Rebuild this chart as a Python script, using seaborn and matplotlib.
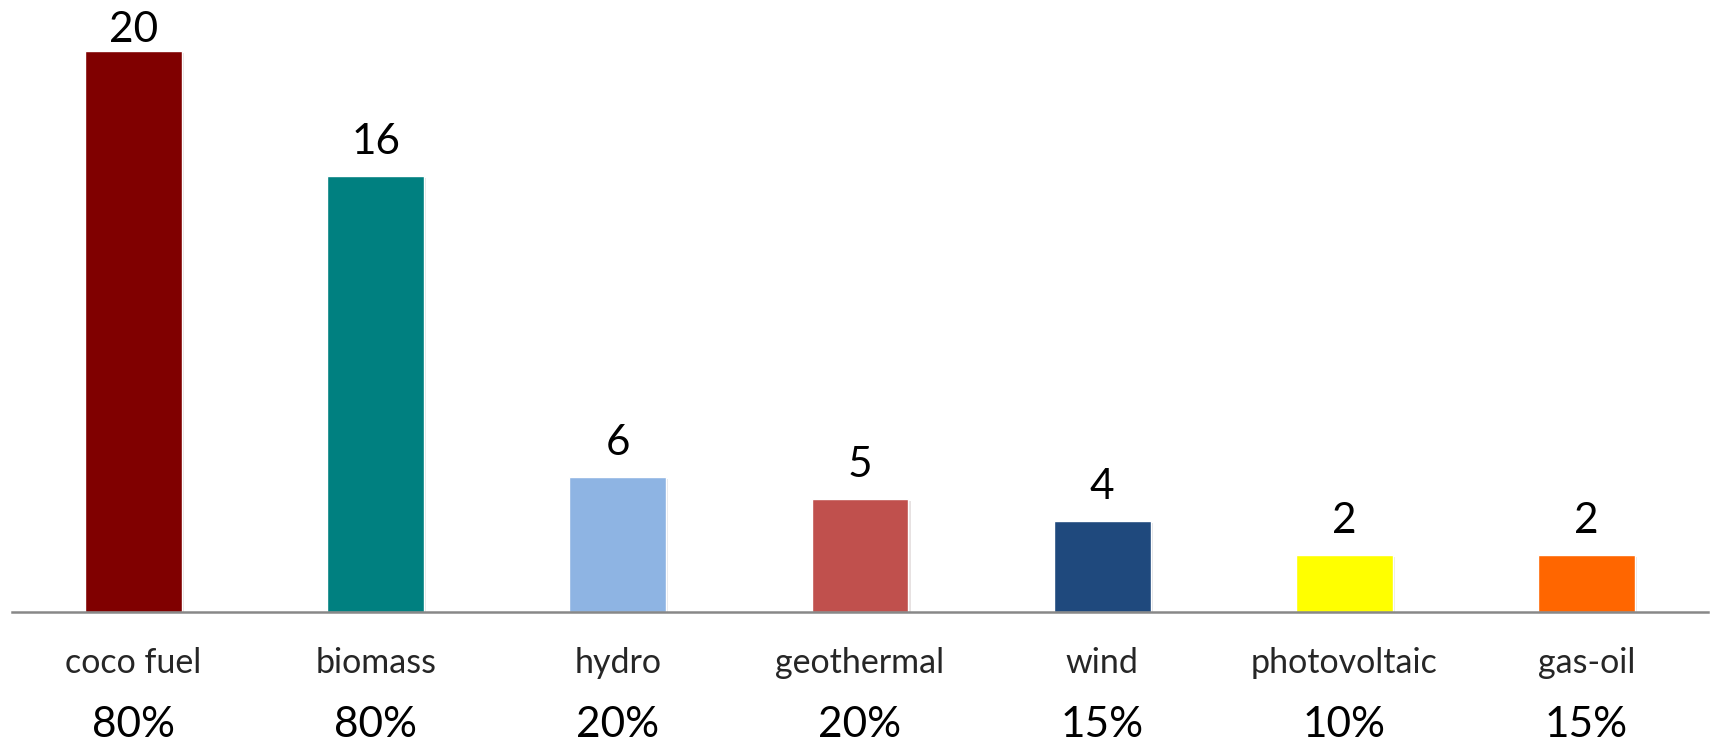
import matplotlib
matplotlib.use("Agg")
import matplotlib.pyplot as plt
import matplotlib.patheffects as pe
import seaborn as sns

# data
sources = ["coco fuel", "biomass", "hydro", "geothermal", "wind", "photovoltaic", "gas-oil"]
bar_heights = [20, 15.55, 4.8, 4.02, 3.24, 2.02, 2.02]
value_labels = ["20", "16", "6", "5", "4", "2", "2"]
share_labels = ["80%", "80%", "20%", "20%", "15%", "10%", "15%"]
bar_colors = ["#800000", "#008080", "#8EB4E3", "#C0504D", "#1F497D", "#FFFF00", "#FF6600"]

sns.set_style("white")
plt.rcParams["font.family"] = ["Lato", "DejaVu Sans"]

fig = plt.figure(figsize=(17.12, 7.47), dpi=100)
ax = fig.add_axes([0.00724, 0.1811, 0.9902, 0.8189])

sns.barplot(x=sources, y=bar_heights, hue=sources, palette=bar_colors,
            width=0.4, legend=False, saturation=1, ax=ax)

# soft drop shadow like the original
for p in ax.patches:
    p.set_path_effects([pe.SimplePatchShadow(offset=(1.5, -1.5), alpha=0.12), pe.Normal()])

ax.set_xlim(-0.5, 6.5)
ax.set_ylim(0, 20 * 611.7 / 560.7)

# value labels above the bars (the tallest one is squeezed by the top edge)
fig.canvas.draw()
fig_h_px = fig.get_figheight() * fig.dpi
for i, (h, lab) in enumerate(zip(bar_heights, value_labels)):
    top_px = fig_h_px - ax.transData.transform((i, h))[1]
    room_pt = (top_px - 42) * 72 / fig.dpi
    off = min(15.7, room_pt)
    ax.annotate(lab, xy=(i, h), xytext=(0, off), textcoords="offset points",
                ha="center", va="baseline", fontsize=30.5, color="black")

# share percentages under the category names
for i, lab in enumerate(share_labels):
    ax.annotate(lab, xy=(i, 0), xytext=(0, -90), textcoords="offset points",
                ha="center", va="baseline", fontsize=30.5, color="black")

ax.set_yticks([])
ax.set_xlabel("")
ax.set_ylabel("")
ax.tick_params(axis="x", length=0, pad=25.5, labelsize=24.5)
for s in ["top", "left", "right"]:
    ax.spines[s].set_visible(False)
ax.spines["bottom"].set_color("#888888")
ax.spines["bottom"].set_linewidth(1.8)

plt.savefig("out.png", dpi=100)
